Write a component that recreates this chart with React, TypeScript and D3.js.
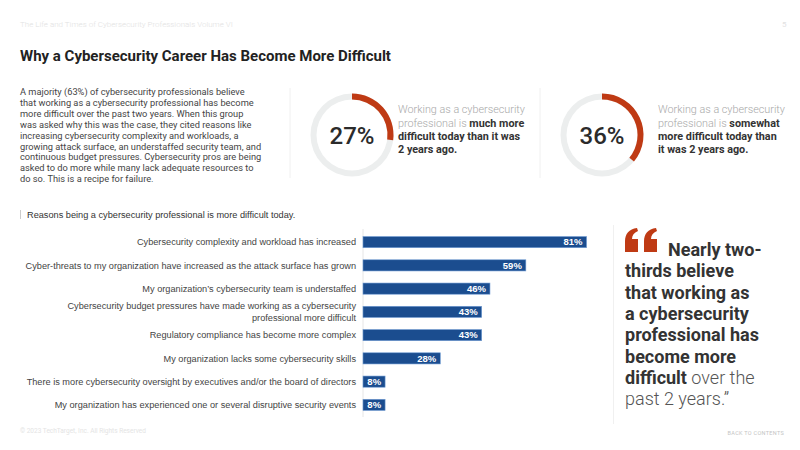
import React, { useEffect, useRef } from 'react'
import * as d3 from 'd3'

// bar chart data
const reasons: string[][] = [
  ['Cybersecurity complexity and workload has increased'],
  ['Cyber-threats to my organization have increased as the attack surface has grown'],
  ['My organization\u2019s cybersecurity team is understaffed'],
  ['Cybersecurity budget pressures have made working as a cybersecurity', 'professional more difficult'],
  ['Regulatory compliance has become more complex'],
  ['My organization lacks some cybersecurity skills'],
  ['There is more cybersecurity oversight by executives and/or the board of directors'],
  ['My organization has experienced one or several disruptive security events'],
]
const reasonValues: number[] = [81, 59, 46, 43, 43, 28, 8, 8]

// donut data
const donutValues: number[] = [27, 36]
const donutLight: string[][] = [
  ['Working as a cybersecurity', 'professional is '],
  ['Working as a cybersecurity', 'professional is '],
]
const donutBold: string[][] = [
  ['much more', 'difficult today than it was', '2 years ago.'],
  ['somewhat', 'more difficult today than', 'it was 2 years ago.'],
]

const intro: string[] = [
  'A majority (63%) of cybersecurity professionals believe',
  'that working as a cybersecurity professional has become',
  'more difficult over the past two years. When this group',
  'was asked why this was the case, they cited reasons like',
  'increasing cybersecurity complexity and workloads, a',
  'growing attack surface, an understaffed security team, and',
  'continuous budget pressures. Cybersecurity pros are being',
  'asked to do more while many lack adequate resources to',
  'do so. This is a recipe for failure.',
]

const quoteBold: string[] = [
  'thirds believe',
  'that working as',
  'a cybersecurity',
  'professional has',
  'become more',
]

const RED = '#bf3a14'
const BLUE = '#1b4d8f'

// one opening quote mark, 13 x 24
const QUOTE_PATH = 'M0 24 L0 13 C0 6 4 1 12 0 L13 3 C9 4.5 7 7.5 7 11 L13 11 L13 24 Z'

const App = () => {
  const svgRef = useRef<SVGSVGElement | null>(null)
  const width = 800
  const height = 450

  useEffect(() => {
    const svg = d3.select(svgRef.current)
    svg.selectAll('*').remove()

    svg.append('rect').attr('width', width).attr('height', height).attr('fill', '#fff')

    // header
    svg.append('text').attr('x', 20).attr('y', 27)
      .attr('font-family', 'Roboto').attr('font-weight', 300).attr('font-size', 8)
      .attr('fill', '#e2e2e2').text('The Life and Times of Cybersecurity Professionals Volume VI')
    svg.append('text').attr('x', 782).attr('y', 27)
      .attr('font-family', 'Roboto').attr('font-size', 8).attr('fill', '#e2e2e2').text('5')

    svg.append('text').attr('x', 20).attr('y', 61)
      .attr('font-family', 'Roboto').attr('font-weight', 700).attr('font-size', 15)
      .attr('fill', '#222').text('Why a Cybersecurity Career Has Become More Difficult')

    // intro paragraph
    const para = svg.append('text')
      .attr('font-family', 'Roboto').attr('font-size', 9.25).attr('fill', '#444')
    intro.forEach((line, i) => {
      para.append('tspan').attr('x', 20).attr('y', 95 + i * 10.9).text(line)
    })

    // donuts
    const arc = d3.arc<any>().innerRadius(35.5).outerRadius(41.5)
    const centers = [352, 602]
    const textX = [398, 658]
    centers.forEach((cx, i) => {
      const g = svg.append('g').attr('transform', `translate(${cx},135)`)
      g.append('path').attr('d', arc({ startAngle: 0, endAngle: 2 * Math.PI }) as string)
        .attr('fill', '#eceeee')
      g.append('path')
        .attr('d', arc({ startAngle: 0, endAngle: (donutValues[i] / 100) * 2 * Math.PI }) as string)
        .attr('fill', RED)
      g.append('text').attr('text-anchor', 'middle').attr('y', 8.5)
        .attr('font-family', 'Roboto').attr('font-weight', 500).attr('font-size', 24)
        .attr('fill', '#2b2b2b').text(`${donutValues[i]}%`)

      svg.append('line').attr('x1', cx - 62).attr('x2', cx - 62).attr('y1', 88).attr('y2', 178)
        .attr('stroke', '#f0f0f0')

      const t = svg.append('text').attr('font-family', 'Roboto').attr('font-size', 10.8)
      t.append('tspan').attr('x', textX[i]).attr('y', 113)
        .attr('font-weight', 300).attr('fill', '#a8a8a8').text(donutLight[i][0])
      t.append('tspan').attr('x', textX[i]).attr('y', 126.5)
        .attr('font-weight', 300).attr('fill', '#a8a8a8').text(donutLight[i][1])
      t.append('tspan').attr('font-weight', 700).attr('fill', '#333').text(donutBold[i][0])
      donutBold[i].slice(1).forEach((line, j) => {
        t.append('tspan').attr('x', textX[i]).attr('y', 140 + j * 13.3)
          .attr('font-weight', 700).attr('fill', '#333').text(line)
      })
    })

    // bar chart title
    svg.append('rect').attr('x', 20).attr('y', 210).attr('width', 1).attr('height', 9).attr('fill', '#ccc')
    svg.append('text').attr('x', 27).attr('y', 218)
      .attr('font-family', 'Liberation Sans, Arial').attr('font-size', 9.2)
      .attr('fill', '#333').text('Reasons being a cybersecurity professional is more difficult today.')

    const x0 = 363
    const xScale = d3.scaleLinear().domain([0, 100]).range([x0, x0 + 276])
    const yScale = d3.scaleBand<number>()
      .domain(reasonValues.map((_, i) => i))
      .range([230.5, 416.5])
      .paddingInner(0.52).paddingOuter(0.26)

    svg.append('line').attr('x1', x0).attr('x2', x0).attr('y1', 229).attr('y2', 417)
      .attr('stroke', '#e6e6e6')

    const rows = svg.append('g').selectAll('g').data(reasonValues).join('g')
    rows.append('rect')
      .attr('x', xScale(0))
      .attr('y', (_, i) => yScale(i)!)
      .attr('width', (d) => xScale(d) - xScale(0))
      .attr('height', yScale.bandwidth())
      .attr('fill', BLUE)
      .attr('stroke', '#6f9bd3').attr('stroke-width', 0.6)
    rows.append('text')
      .attr('x', (d) => xScale(d) - 4)
      .attr('y', (_, i) => yScale(i)! + yScale.bandwidth() / 2 + 3.3)
      .attr('text-anchor', 'end')
      .attr('font-family', 'Liberation Sans, Arial').attr('font-weight', 700).attr('font-size', 9.5)
      .attr('fill', '#fff').text((d) => `${d}%`)

    // category labels
    reasons.forEach((lines, i) => {
      const cy = yScale(i)! + yScale.bandwidth() / 2
      const t = svg.append('text').attr('text-anchor', 'end')
        .attr('font-family', 'Liberation Sans, Arial').attr('font-size', 9.2)
        .attr('fill', '#444')
      lines.forEach((line, j) => {
        t.append('tspan').attr('x', 356)
          .attr('y', cy + 3.2 + (j - (lines.length - 1) / 2) * 11.5).text(line)
      })
    })

    // quote panel
    svg.append('line').attr('x1', 613.5).attr('x2', 613.5).attr('y1', 225).attr('y2', 424)
      .attr('stroke', '#f0f0f0')
    ;[625, 644].forEach((qx) => {
      svg.append('path').attr('d', QUOTE_PATH)
        .attr('transform', `translate(${qx},228)`).attr('fill', RED)
    })
    const q = svg.append('text').attr('font-family', 'Roboto').attr('font-size', 18).attr('fill', '#333')
    q.append('tspan').attr('x', 668).attr('y', 256).attr('font-weight', 700).text('Nearly two-')
    quoteBold.forEach((line, i) => {
      q.append('tspan').attr('x', 625).attr('y', 277.3 + i * 21.3).attr('font-weight', 700).text(line)
    })
    q.append('tspan').attr('x', 625).attr('y', 277.3 + 5 * 21.3).attr('font-weight', 700).text('difficult')
    q.append('tspan').attr('font-weight', 300).attr('fill', '#555').text(' over the')
    q.append('tspan').attr('x', 625).attr('y', 277.3 + 6 * 21.3).attr('font-weight', 300)
      .attr('fill', '#555').text('past 2 years.\u201D')

    // footer
    svg.append('text').attr('x', 20).attr('y', 433)
      .attr('font-family', 'Roboto').attr('font-size', 6.5).attr('fill', '#e4e4e4')
      .text('\u00A9 2023 TechTarget, Inc. All Rights Reserved')
    svg.append('text').attr('x', 784).attr('y', 435).attr('text-anchor', 'end')
      .attr('font-family', 'Roboto').attr('font-size', 5.5).attr('letter-spacing', 0.3)
      .attr('fill', '#c4c4c4').text('BACK TO CONTENTS')
  }, [])

  return (
    <svg ref={svgRef} width={width} height={height}
      style={{ position: 'absolute', left: 0, top: 0, display: 'block' }} />
  )
}

export default App
